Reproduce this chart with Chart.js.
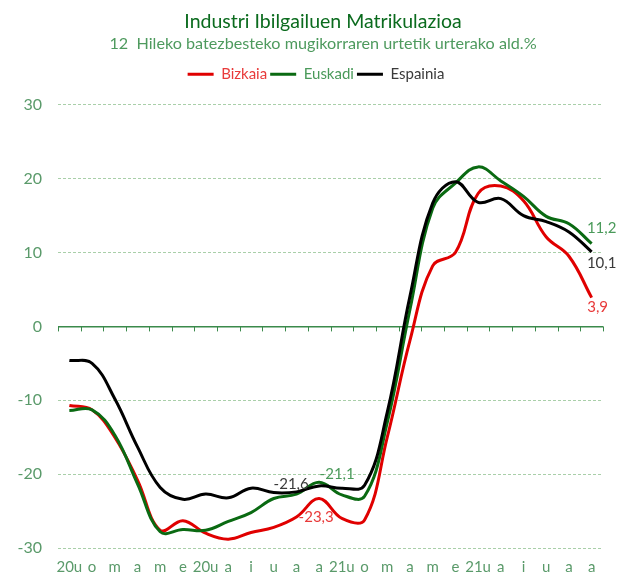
<!DOCTYPE html>
<html>
<head>
<meta charset="utf-8">
<script src="https://cdn.jsdelivr.net/npm/chart.js@4.4.0/dist/chart.umd.min.js"></script>
<style>
  html, body { margin: 0; padding: 0; background: #fff; }
</style>
</head>
<body>
<canvas id="chart" width="619" height="575"></canvas>
<script>
// hilabeteak (2020 urt. - 2021 abe.)
const months = ["20u", "o", "m", "a", "m", "e", "20u", "a", "i", "u", "a", "a",
                "21u", "o", "m", "a", "m", "e", "21u", "a", "i", "u", "a", "a"];

const bizkaia = [-10.7, -11.3, -15.0, -20.8, -27.6, -26.3, -28.0, -28.8, -27.9, -27.2, -25.8, -23.3,
                 -26.0, -26.2, -15.0, -1.9, 8.2, 10.0, 18.0, 19.0, 17.0, 12.1, 9.5, 3.9];
const euskadi = [-11.4, -11.3, -14.7, -21.3, -27.8, -27.5, -27.6, -26.4, -25.2, -23.3, -22.7, -21.1,
                 -22.8, -23.0, -13.0, 2.3, 16.0, 19.4, 21.6, 19.7, 17.6, 14.9, 13.9, 11.2];
const espainia = [-4.6, -5.0, -9.8, -16.3, -21.8, -23.4, -22.7, -23.2, -21.9, -22.5, -22.4, -21.6,
                  -21.9, -21.5, -11.6, 4.1, 16.7, 19.6, 16.8, 17.3, 15.0, 14.2, 12.8, 10.1];

const seriesNames = ["Bizkaia", "Euskadi", "Espainia"];
const lineColors = ["#e00000", "#0a6a12", "#000000"];
const textColors = ["#e83a3a", "#4a9a5a", "#3a3a3a"];

// balio-etiketak: [indizea, dx, dy]
const labelSpots = [
  [[11, -3, 19], [23, 6, 10]],
  [[11, 18, -8], [23, 10, -16]],
  [[11, -28, -2], [23, 10, 11]],
];

const axisGreen = "#5a9a6a";

// zero lerroko marka txikiak
const zeroTicks = {
  id: "zeroTicks",
  beforeDatasetsDraw(chart) {
    const { ctx, chartArea, scales: { x, y } } = chart;
    const y0 = y.getPixelForValue(0);
    ctx.save();
    ctx.strokeStyle = "#3b8a4b";
    ctx.lineWidth = 1;
    for (let i = 0; i <= months.length; i++) {
      let px;
      if (i === 0) px = chartArea.left;
      else if (i === months.length) px = chartArea.right;
      else px = (x.getPixelForValue(i - 1) + x.getPixelForValue(i)) / 2;
      px = Math.round(px) + 0.5;
      ctx.beginPath();
      ctx.moveTo(px, y0);
      ctx.lineTo(px, y0 + 5);
      ctx.stroke();
    }
    ctx.restore();
  },
};

const valueLabels = {
  id: "valueLabels",
  afterDatasetsDraw(chart) {
    const ctx = chart.ctx;
    ctx.save();
    ctx.font = "15px Lato";
    ctx.textAlign = "center";
    ctx.textBaseline = "middle";
    chart.data.datasets.forEach((ds, di) => {
      const meta = chart.getDatasetMeta(di);
      labelSpots[di].forEach(([idx, dx, dy]) => {
        const pt = meta.data[idx];
        ctx.fillStyle = textColors[di];
        ctx.fillText(ds.data[idx].toFixed(1).replace(".", ","), pt.x + dx, pt.y + dy);
      });
    });
    ctx.restore();
  },
};

const legendGap = {
  id: "legendGap",
  beforeInit(chart) {
    const fit = chart.legend.fit;
    chart.legend.fit = function () {
      fit.call(this);
      this.height += 13;
    };
  },
};

// izenburuak eta legenda pixka bat eskuinera
const centerShift = {
  id: "centerShift",
  afterLayout(chart) {
    chart.boxes.forEach((b) => {
      if (b.position !== "top") return;
      const dx = b === chart.legend ? 7.5 : 14.5;
      b.left += dx;
      b.right += dx;
    });
  },
};

new Chart(document.getElementById("chart"), {
  type: "line",
  data: {
    labels: months,
    datasets: [bizkaia, euskadi, espainia].map((d, i) => ({
      label: seriesNames[i],
      data: d,
      borderColor: lineColors[i],
      backgroundColor: lineColors[i],
      order: 3 - i,
    })),
  },
  options: {
    responsive: false,
    animation: false,
    layout: { padding: { left: 14, right: 16, top: 0, bottom: 0 } },
    elements: {
      point: { radius: 0 },
      line: { borderWidth: 3, tension: 0.4 },
    },
    plugins: {
      title: {
        display: true,
        text: "Industri Ibilgailuen Matrikulazioa",
        color: "#0b6b1e",
        font: { family: "Lato", size: 19.5, weight: "normal", lineHeight: 1.2 },
        padding: { top: 10, bottom: 0 },
      },
      subtitle: {
        display: true,
        text: "12  Hileko batezbesteko mugikorraren urtetik urterako ald.%",
        color: "#4e9a5e",
        font: { family: "Lato", size: 16.2, lineHeight: 1.2 },
        padding: { top: 1, bottom: 10 },
      },
      legend: {
        labels: {
          boxWidth: 26,
          boxHeight: 3,
          padding: 3,
          font: { family: "Lato", size: 15 },
          generateLabels: (chart) =>
            chart.data.datasets.map((ds, i) => ({
              text: ds.label,
              fillStyle: lineColors[i],
              strokeStyle: lineColors[i],
              lineWidth: 0,
              fontColor: textColors[i],
              datasetIndex: i,
              hidden: false,
            })),
        },
      },
      tooltip: { enabled: false },
    },
    scales: {
      x: {
        offset: true,
        grid: { display: false },
        border: { display: false },
        ticks: {
          color: axisGreen,
          font: { family: "Lato", size: 15 },
          padding: 2,
          autoSkip: false,
          maxRotation: 0,
        },
        afterFit: (s) => { s.height = 27; },
      },
      y: {
        min: -30,
        max: 30,
        ticks: {
          stepSize: 10,
          color: axisGreen,
          font: { family: "Lato", size: 16 },
          padding: 16,
        },
        grid: {
          drawTicks: false,
          color: (c) => (c.tick && c.tick.value === 0 ? "#3b8a4b" : "#a9cfa9"),
          lineWidth: (c) => (c.tick && c.tick.value === 0 ? 1.5 : 1),
        },
        border: {
          display: false,
          dash: (c) => (c.tick && c.tick.value === 0 ? [] : [3, 2]),
        },
        afterFit: (s) => { s.width = 44; },
      },
    },
  },
  plugins: [zeroTicks, valueLabels, legendGap, centerShift],
});
</script>
</body>
</html>
